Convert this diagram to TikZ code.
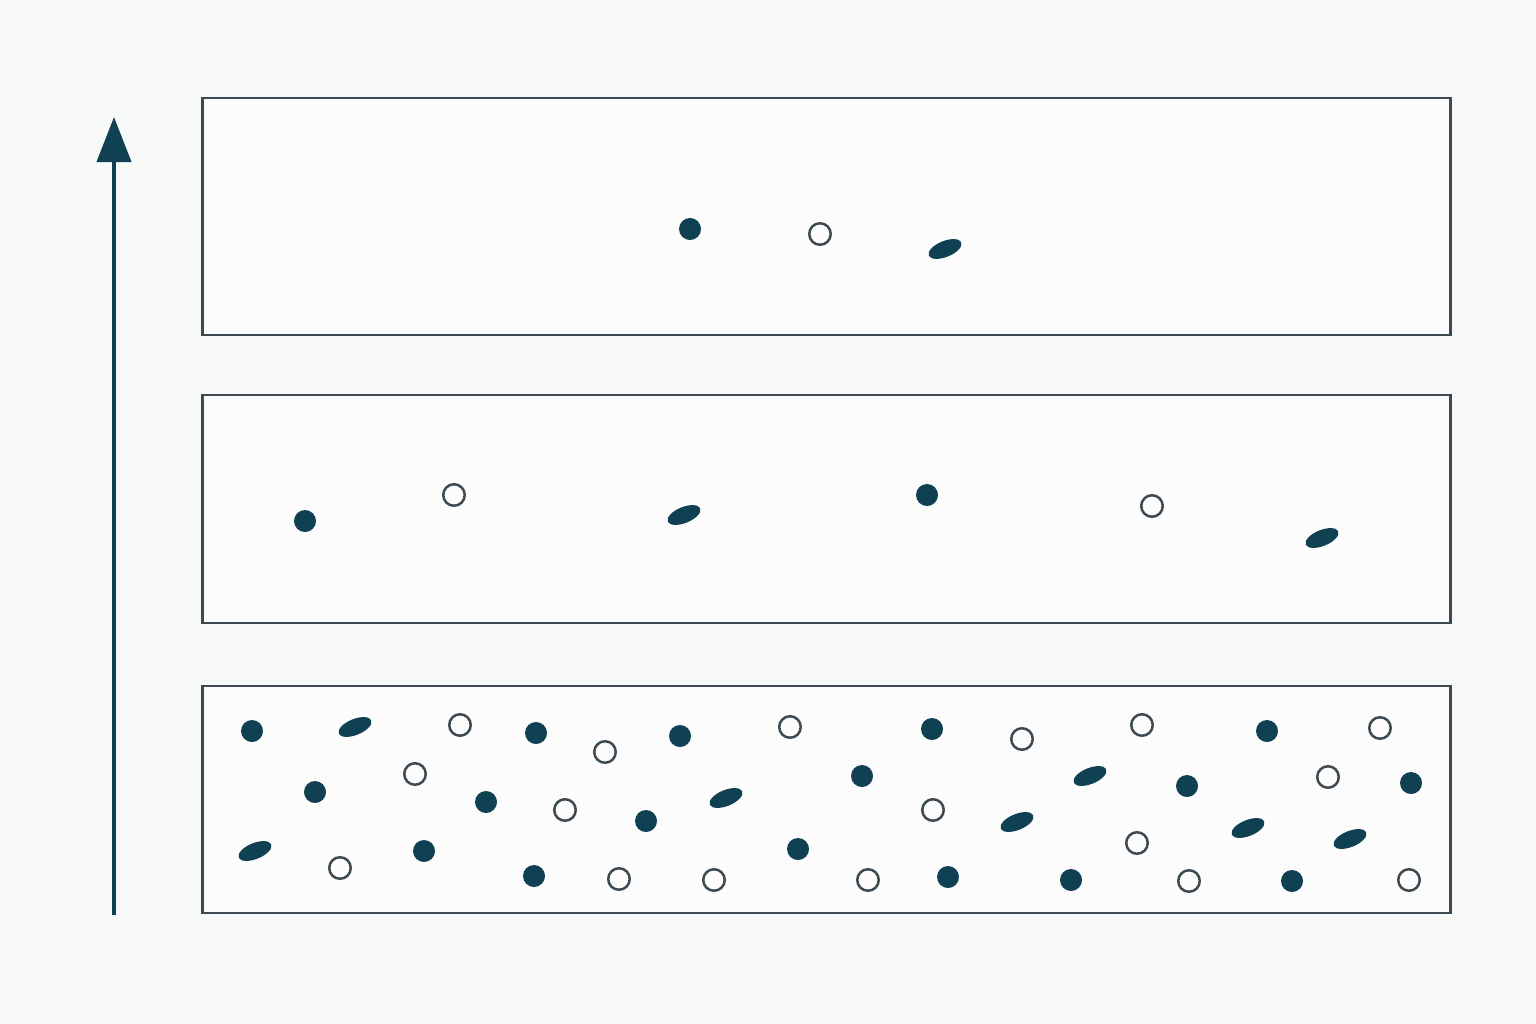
\documentclass[tikz,border=0pt]{standalone}
\usetikzlibrary{arrows.meta,shapes.geometric}

\definecolor{inkteal}{HTML}{0F4152}
\definecolor{boxgray}{HTML}{3E4A52}
\definecolor{paper}{HTML}{F7F8F8}

\tikzset{
  layerbox/.style={draw=boxgray, line width=0.025cm, fill=white!60!paper, inner sep=0pt,
    minimum width=12.47cm},
  solid dot/.style={circle, fill=inkteal, inner sep=0pt, minimum size=0.22cm},
  open dot/.style={circle, draw=boxgray, line width=0.025cm, fill=white!60!paper, inner sep=0pt, minimum size=0.215cm},
  flake/.style={ellipse, fill=inkteal, inner sep=0pt, minimum width=0.35cm, minimum height=0.16cm, rotate=22}
}

\begin{document}
\begin{tikzpicture}[x=0.01cm, y=-0.01cm]
      % Canvas
      \fill[paper] (0,0) rectangle (1536,1024);
      \useasboundingbox (0,0) rectangle (1536,1024);

      % Vertical axis arrow
      \coordinate (axis-low) at (114,915);
      \coordinate (axis-high) at (114,117);
      \draw[inkteal, line width=0.04cm, -{Triangle[width=0.34cm, length=0.45cm]}] (axis-low) -- (axis-high);

      % The three layers
      \node[layerbox, minimum height=2.37cm] (top) at (826.5,216.5) {};
      \node[layerbox, minimum height=2.28cm] (middle) at (826.5,509) {};
      \node[layerbox, minimum height=2.27cm] (bottom) at (826.5,799.5) {};

      % Top layer
      \node[solid dot] (top-s1) at (690,229) {};
      \node[open dot] (top-o1) at (820,234) {};
      \node[flake] (top-e1) at (945,249) {};

      % Middle layer
      \foreach \x/\y [count=\i] in {305/521, 927/495}
          \node[solid dot] (mid-s\i) at (\x,\y) {};
      \foreach \x/\y [count=\i] in {454/495, 1152/506}
          \node[open dot] (mid-o\i) at (\x,\y) {};
      \foreach \x/\y [count=\i] in {684/515, 1322/538}
          \node[flake] (mid-e\i) at (\x,\y) {};

      % Bottom layer
      \foreach \x/\y [count=\i] in {252/731, 536/733, 680/736, 932/729, 1267/731,
                                   315/792, 486/802, 646/821, 862/776, 1187/786, 1411/783,
                                   424/851, 534/876, 798/849, 948/877, 1071/880, 1292/881}
          \node[solid dot] (low-s\i) at (\x,\y) {};
      \foreach \x/\y [count=\i] in {460/725, 605/752, 790/727, 1022/739, 1142/725, 1380/728,
                                   415/774, 565/810, 933/810, 1328/777,
                                   340/868, 619/879, 714/880, 868/880, 1137/843, 1189/881, 1409/880}
          \node[open dot] (low-o\i) at (\x,\y) {};
      \foreach \x/\y [count=\i] in {355/727, 726/798, 1090/776, 1017/822, 1248/828, 1350/839, 255/851}
          \node[flake] (low-e\i) at (\x,\y) {};
\end{tikzpicture}
\end{document}
